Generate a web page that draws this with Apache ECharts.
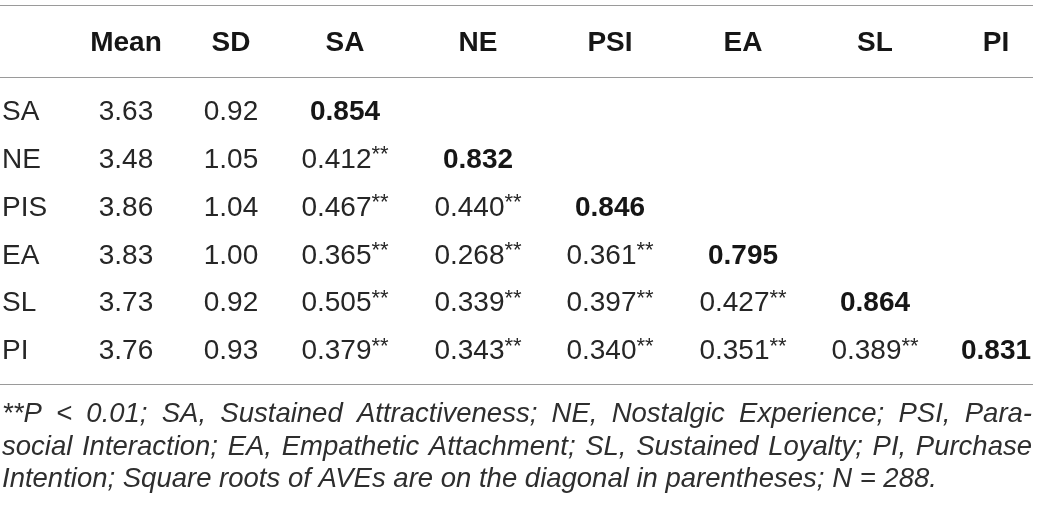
<!DOCTYPE html>
<html><head><meta charset="utf-8">
<script src="https://cdn.jsdelivr.net/npm/echarts@6/dist/echarts.min.js"></script>
<style>html,body{margin:0;padding:0;background:#fff}#c{width:1039px;height:508px}</style>
</head><body><div id="c"></div>
<script>
// ---- data ----
const columns = ['Mean', 'SD', 'SA', 'NE', 'PSI', 'EA', 'SL', 'PI'];
const rowLabels = ['SA', 'NE', 'PIS', 'EA', 'SL', 'PI'];
const means = [3.63, 3.48, 3.86, 3.83, 3.73, 3.76];
const sds = [0.92, 1.05, 1.04, 1.00, 0.92, 0.93];
const diagonal = [0.854, 0.832, 0.846, 0.795, 0.864, 0.831];
const corrSA  = [0.412, 0.467, 0.365, 0.505, 0.379];
const corrNE  = [0.440, 0.268, 0.339, 0.343];
const corrPSI = [0.361, 0.397, 0.340];
const corrEA  = [0.427, 0.351];
const corrSL  = [0.389];
const sigMark = '**';
const footnoteLines = [
  '**P < 0.01; SA, Sustained Attractiveness; NE, Nostalgic Experience; PSI, Para-',
  'social Interaction; EA, Empathetic Attachment; SL, Sustained Loyalty; PI, Purchase',
  'Intention; Square roots of AVEs are on the diagonal in parentheses; N = 288.'
];

// ---- layout (styling only) ----
const W = 1039, H = 508;
const colCenters = [126, 231, 345, 478, 610, 743, 875, 996]; // column centres in axis units
const labelX = 2;
const firstRowY = 112.5, rowPitch = 47.8;
const toRow = y => (y - firstRowY) / rowPitch;
const headerRow = toRow(43);
const ruleRows = [toRow(5), toRow(77), toRow(384)];
const ruleRight = 1033;
const FONT = "'Liberation Sans', Arial, Helvetica, sans-serif";
const bodyColor = '#262626';
const boldColor = '#161616';

const corrCols = [corrSA, corrNE, corrPSI, corrEA, corrSL];

const headerData = columns.map((c, i) => ({ name: c, value: [colCenters[i], headerRow] }));
const labelData = rowLabels.map((r, i) => ({ name: r, value: [labelX, i] }));
const plainData = [];
means.forEach((v, i) => plainData.push({ name: v.toFixed(2), value: [colCenters[0], i] }));
sds.forEach((v, i) => plainData.push({ name: v.toFixed(2), value: [colCenters[1], i] }));
const corrData = [];
corrCols.forEach((col, j) => {
  col.forEach((v, k) => {
    const row = j + 1 + k;
    corrData.push({ name: v.toFixed(3), value: [colCenters[2 + j], row] });
  });
});
const diagData = diagonal.map((v, i) => ({ name: v.toFixed(3), value: [colCenters[2 + i], i] }));

const baseSeries = {
  type: 'scatter', symbolSize: 0, silent: true, clip: false,
  itemStyle: { opacity: 1 }
};

const chart = echarts.init(document.getElementById('c'), null, { renderer: 'canvas' });
const option = {
  animation: false,
  backgroundColor: '#fff',
  grid: { left: 0, right: 0, top: 0, bottom: 0 },
  xAxis: { type: 'value', min: 0, max: W, show: false },
  yAxis: { type: 'value', inverse: true, min: toRow(0), max: toRow(H), show: false },
  series: [
    Object.assign({}, baseSeries, {
      name: 'header', data: headerData,
      label: { show: true, position: 'inside', formatter: '{b}', fontFamily: FONT,
        fontSize: 28, fontWeight: 'bold', color: boldColor },
      markLine: {
        silent: true, symbol: 'none', label: { show: false },
        lineStyle: { color: '#9a9a9a', width: 1.2, type: 'solid', opacity: 1 },
        data: ruleRows.map(r => [{ coord: [0, r] }, { coord: [ruleRight, r] }])
      }
    }),
    Object.assign({}, baseSeries, {
      name: 'rowLabels', data: labelData,
      label: { show: true, position: 'inside', align: 'left', formatter: '{b}', fontFamily: FONT,
        fontSize: 28, color: bodyColor }
    }),
    Object.assign({}, baseSeries, {
      name: 'plain', data: plainData,
      label: { show: true, position: 'inside', formatter: '{b}', fontFamily: FONT,
        fontSize: 28, color: bodyColor }
    }),
    Object.assign({}, baseSeries, {
      name: 'corr', data: corrData,
      label: { show: true, position: 'inside',
        formatter: p => '{v|' + p.name + '}{s|' + sigMark + '}',
        rich: {
          v: { fontFamily: FONT, fontSize: 28, color: bodyColor, lineHeight: 32 },
          s: { fontFamily: FONT, fontSize: 22, color: bodyColor, verticalAlign: 'top', lineHeight: 30 }
        }
      }
    }),
    Object.assign({}, baseSeries, {
      name: 'diag', data: diagData,
      label: { show: true, position: 'inside', formatter: '{b}', fontFamily: FONT,
        fontSize: 28, fontWeight: 'bold', color: boldColor }
    })
  ]
};
chart.setOption(option);

// ---- footnote (justified italic text) ----
const footFont = 'italic 27.5px ' + FONT;
const footY = [414, 447, 479];
const footLeft = 2, footRight = 1032;
const ctx = document.createElement('canvas').getContext('2d');
ctx.font = footFont;
const graphics = [];
footnoteLines.forEach((line, li) => {
  const justify = li < footnoteLines.length - 1;
  const words = line.split(' ');
  const widths = words.map(w => ctx.measureText(w).width);
  const total = widths.reduce((a, b) => a + b, 0);
  const space = ctx.measureText(' ').width;
  const gap = justify ? (footRight - footLeft - total) / (words.length - 1) : space;
  let x = footLeft;
  words.forEach((w, i) => {
    graphics.push({ type: 'text', x: x, y: footY[li], silent: true,
      style: { text: w, font: footFont, fill: '#2e2e2e', verticalAlign: 'middle' } });
    x += widths[i] + gap;
  });
});
chart.setOption({ graphic: graphics });
</script>
</body></html>
